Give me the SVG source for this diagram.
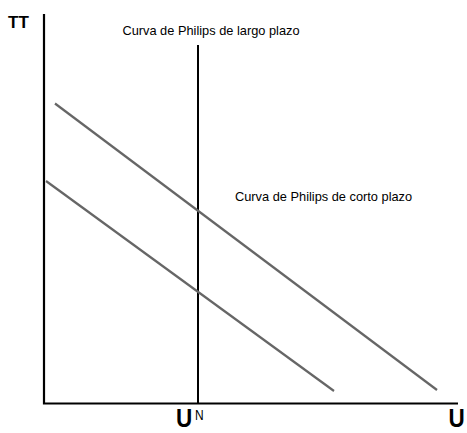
<svg xmlns="http://www.w3.org/2000/svg" width="467" height="433" viewBox="0 0 467 433">
<style>
.axis{stroke:#000;stroke-width:2.2;fill:none}
.lr{stroke:#000;stroke-width:2;fill:none}
.sr{stroke:#666;stroke-width:2.2;fill:none}
.lbl{font-family:"Liberation Sans",Arial,sans-serif;font-size:12.8px;fill:#000}
.sup{font-family:"Liberation Sans",Arial,sans-serif;font-size:15px;fill:#000}
.big{font-family:"Liberation Sans",Arial,sans-serif;font-weight:bold;fill:#000}
</style>
<rect width="467" height="433" fill="#fff"/>
<g id="connectors">
<polyline class="axis" points="44,14 44,403.5 458,403.5"/>
<line id="lrpc" class="lr" x1="198" y1="45" x2="198" y2="403"/>
<line id="srpc1" class="sr" x1="55" y1="103.5" x2="437" y2="390"/>
<line id="srpc2" class="sr" x1="46" y1="181" x2="334" y2="391"/>
</g>
<g id="label-pi"><text class="big" x="8" y="28" font-size="17">ТТ</text></g>
<g id="label-lr"><text class="lbl" x="211" y="35" text-anchor="middle">Curva de Philips de largo plazo</text></g>
<g id="label-sr"><text class="lbl" x="235" y="201">Curva de Philips de corto plazo</text></g>
<g id="label-un"><text class="big" font-size="22.5" transform="translate(176,427) scale(1,1.14)">U</text><text class="sup" transform="translate(195,420) scale(0.8,1)">N</text></g>
<g id="label-u"><text class="big" font-size="22.5" transform="translate(448.5,427) scale(1,1.14)">U</text></g>
</svg>
